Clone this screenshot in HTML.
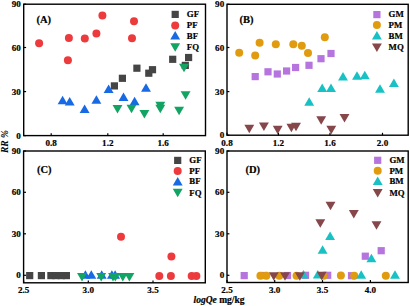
<!DOCTYPE html>
<html><head><meta charset="utf-8"><style>
html,body{margin:0;padding:0;background:#fff;}
svg{display:block;}
text{font-family:"Liberation Serif",serif;font-weight:bold;fill:#000;stroke:#000;stroke-width:0.2px;}
.t{font-size:9.1px;}
.l{font-size:8.8px;}
.p{font-size:10.5px;}
.a{font-size:9.5px;}
</style></head><body>
<svg width="410" height="306" viewBox="0 0 410 306">
<rect width="410" height="306" fill="#fff"/>
<rect x="23.7" y="4.2" width="181.8" height="131.4" fill="none" stroke="#000" stroke-width="1.4"/>
<line x1="23.7" y1="4.2" x2="26.099999999999998" y2="4.2" stroke="#000" stroke-width="1.2"/>
<line x1="23.7" y1="47.5" x2="26.099999999999998" y2="47.5" stroke="#000" stroke-width="1.2"/>
<line x1="23.7" y1="91.6" x2="26.099999999999998" y2="91.6" stroke="#000" stroke-width="1.2"/>
<line x1="23.7" y1="135.6" x2="26.099999999999998" y2="135.6" stroke="#000" stroke-width="1.2"/>
<line x1="51.2" y1="135.6" x2="51.2" y2="133.2" stroke="#000" stroke-width="1.2"/>
<line x1="107.8" y1="135.6" x2="107.8" y2="133.2" stroke="#000" stroke-width="1.2"/>
<line x1="163.2" y1="135.6" x2="163.2" y2="133.2" stroke="#000" stroke-width="1.2"/>
<text x="20.9" y="7.300000000000001" text-anchor="end" class="t">90</text>
<text x="20.9" y="50.6" text-anchor="end" class="t">60</text>
<text x="20.9" y="94.69999999999999" text-anchor="end" class="t">30</text>
<text x="20.9" y="138.7" text-anchor="end" class="t">0</text>
<text x="51.2" y="146.2" text-anchor="middle" class="t">0.8</text>
<text x="107.8" y="146.2" text-anchor="middle" class="t">1.2</text>
<text x="163.2" y="146.2" text-anchor="middle" class="t">1.6</text>
<text x="36.5" y="22.6" class="p">(A)</text>
<rect x="227" y="4.3" width="181.2" height="130.89999999999998" fill="none" stroke="#000" stroke-width="1.4"/>
<line x1="227" y1="4.3" x2="229.4" y2="4.3" stroke="#000" stroke-width="1.2"/>
<line x1="227" y1="47.5" x2="229.4" y2="47.5" stroke="#000" stroke-width="1.2"/>
<line x1="227" y1="91.6" x2="229.4" y2="91.6" stroke="#000" stroke-width="1.2"/>
<line x1="227" y1="135.2" x2="229.4" y2="135.2" stroke="#000" stroke-width="1.2"/>
<line x1="227" y1="135.2" x2="227" y2="132.79999999999998" stroke="#000" stroke-width="1.2"/>
<line x1="278.4" y1="135.2" x2="278.4" y2="132.79999999999998" stroke="#000" stroke-width="1.2"/>
<line x1="330" y1="135.2" x2="330" y2="132.79999999999998" stroke="#000" stroke-width="1.2"/>
<line x1="382.5" y1="135.2" x2="382.5" y2="132.79999999999998" stroke="#000" stroke-width="1.2"/>
<text x="224.2" y="7.4" text-anchor="end" class="t">90</text>
<text x="224.2" y="50.6" text-anchor="end" class="t">60</text>
<text x="224.2" y="94.69999999999999" text-anchor="end" class="t">30</text>
<text x="224.2" y="138.29999999999998" text-anchor="end" class="t">0</text>
<text x="227" y="146.2" text-anchor="middle" class="t">0.8</text>
<text x="278.4" y="146.2" text-anchor="middle" class="t">1.2</text>
<text x="330" y="146.2" text-anchor="middle" class="t">1.6</text>
<text x="382.5" y="146.2" text-anchor="middle" class="t">2.0</text>
<text x="239.5" y="22.6" class="p">(B)</text>
<rect x="23.6" y="151" width="181.70000000000002" height="131.8" fill="none" stroke="#000" stroke-width="1.4"/>
<line x1="23.6" y1="151" x2="26.0" y2="151" stroke="#000" stroke-width="1.2"/>
<line x1="23.6" y1="192.3" x2="26.0" y2="192.3" stroke="#000" stroke-width="1.2"/>
<line x1="23.6" y1="233.8" x2="26.0" y2="233.8" stroke="#000" stroke-width="1.2"/>
<line x1="23.6" y1="275.3" x2="26.0" y2="275.3" stroke="#000" stroke-width="1.2"/>
<line x1="23.6" y1="282.8" x2="23.6" y2="280.40000000000003" stroke="#000" stroke-width="1.2"/>
<line x1="88.3" y1="282.8" x2="88.3" y2="280.40000000000003" stroke="#000" stroke-width="1.2"/>
<line x1="153" y1="282.8" x2="153" y2="280.40000000000003" stroke="#000" stroke-width="1.2"/>
<text x="20.8" y="154.1" text-anchor="end" class="t">90</text>
<text x="20.8" y="195.4" text-anchor="end" class="t">60</text>
<text x="20.8" y="236.9" text-anchor="end" class="t">30</text>
<text x="20.8" y="278.40000000000003" text-anchor="end" class="t">0</text>
<text x="23.6" y="293.3" text-anchor="middle" class="t">2.5</text>
<text x="88.3" y="293.3" text-anchor="middle" class="t">3.0</text>
<text x="153" y="293.3" text-anchor="middle" class="t">3.5</text>
<text x="37" y="172.6" class="p">(C)</text>
<rect x="227" y="151" width="181.2" height="131.5" fill="none" stroke="#000" stroke-width="1.4"/>
<line x1="227" y1="151" x2="229.4" y2="151" stroke="#000" stroke-width="1.2"/>
<line x1="227" y1="192.3" x2="229.4" y2="192.3" stroke="#000" stroke-width="1.2"/>
<line x1="227" y1="233.8" x2="229.4" y2="233.8" stroke="#000" stroke-width="1.2"/>
<line x1="227" y1="275.3" x2="229.4" y2="275.3" stroke="#000" stroke-width="1.2"/>
<line x1="227" y1="282.5" x2="227" y2="280.1" stroke="#000" stroke-width="1.2"/>
<line x1="274.7" y1="282.5" x2="274.7" y2="280.1" stroke="#000" stroke-width="1.2"/>
<line x1="322.5" y1="282.5" x2="322.5" y2="280.1" stroke="#000" stroke-width="1.2"/>
<line x1="370.4" y1="282.5" x2="370.4" y2="280.1" stroke="#000" stroke-width="1.2"/>
<text x="224.2" y="154.1" text-anchor="end" class="t">90</text>
<text x="224.2" y="195.4" text-anchor="end" class="t">60</text>
<text x="224.2" y="236.9" text-anchor="end" class="t">30</text>
<text x="224.2" y="278.40000000000003" text-anchor="end" class="t">0</text>
<text x="227" y="293.3" text-anchor="middle" class="t">2.5</text>
<text x="274.7" y="293.3" text-anchor="middle" class="t">3.0</text>
<text x="322.5" y="293.3" text-anchor="middle" class="t">3.5</text>
<text x="370.4" y="293.3" text-anchor="middle" class="t">4.0</text>
<text x="245.5" y="172.6" class="p">(D)</text>
<rect x="110.80" y="82.30" width="7.2" height="7.2" fill="#454545"/>
<rect x="118.80" y="74.70" width="7.2" height="7.2" fill="#454545"/>
<rect x="133.30" y="64.60" width="7.2" height="7.2" fill="#454545"/>
<rect x="145.20" y="69.60" width="7.2" height="7.2" fill="#454545"/>
<rect x="148.90" y="66.10" width="7.2" height="7.2" fill="#454545"/>
<rect x="169.10" y="55.70" width="7.2" height="7.2" fill="#454545"/>
<rect x="181.70" y="61.80" width="7.2" height="7.2" fill="#454545"/>
<rect x="185.00" y="53.90" width="7.2" height="7.2" fill="#454545"/>
<circle cx="39.10" cy="43.20" r="4.0" fill="#ec3a3d"/>
<circle cx="68.90" cy="37.90" r="4.0" fill="#ec3a3d"/>
<circle cx="67.90" cy="60.30" r="4.0" fill="#ec3a3d"/>
<circle cx="84.80" cy="38.40" r="4.0" fill="#ec3a3d"/>
<circle cx="96.40" cy="33.50" r="4.0" fill="#ec3a3d"/>
<circle cx="102.40" cy="15.50" r="4.0" fill="#ec3a3d"/>
<circle cx="134.00" cy="21.30" r="4.0" fill="#ec3a3d"/>
<circle cx="132.00" cy="38.30" r="4.0" fill="#ec3a3d"/>
<polygon points="62.60,95.85 67.55,104.35 57.65,104.35" fill="#176ae4"/>
<polygon points="69.70,96.95 74.65,105.45 64.75,105.45" fill="#176ae4"/>
<polygon points="84.60,104.45 89.55,112.95 79.65,112.95" fill="#176ae4"/>
<polygon points="96.40,95.35 101.35,103.85 91.45,103.85" fill="#176ae4"/>
<polygon points="108.60,84.55 113.55,93.05 103.65,93.05" fill="#176ae4"/>
<polygon points="123.50,92.45 128.45,100.95 118.55,100.95" fill="#176ae4"/>
<polygon points="134.60,96.75 139.55,105.25 129.65,105.25" fill="#176ae4"/>
<polygon points="146.00,83.15 150.95,91.65 141.05,91.65" fill="#176ae4"/>
<polygon points="112.55,104.95 122.45,104.95 117.50,113.45" fill="#12a462"/>
<polygon points="126.55,104.75 136.45,104.75 131.50,113.25" fill="#12a462"/>
<polygon points="139.45,109.95 149.35,109.95 144.40,118.45" fill="#12a462"/>
<polygon points="155.35,101.75 165.25,101.75 160.30,110.25" fill="#12a462"/>
<polygon points="155.35,104.75 165.25,104.75 160.30,113.25" fill="#12a462"/>
<polygon points="174.15,106.75 184.05,106.75 179.10,115.25" fill="#12a462"/>
<polygon points="180.65,91.35 190.55,91.35 185.60,99.85" fill="#12a462"/>
<polygon points="179.05,63.65 188.95,63.65 184.00,72.15" fill="#12a462"/>
<rect x="171.60" y="10.80" width="7.2" height="7.2" fill="#454545"/>
<text x="186.8" y="17.3" class="l">GF</text>
<circle cx="175.20" cy="25.40" r="4.0" fill="#ec3a3d"/>
<text x="186.8" y="27.9" class="l">PF</text>
<polygon points="175.20,30.95 180.15,39.45 170.25,39.45" fill="#176ae4"/>
<text x="186.8" y="38.7" class="l">BF</text>
<polygon points="170.25,43.25 180.15,43.25 175.20,51.75" fill="#12a462"/>
<text x="186.8" y="50.0" class="l">FQ</text>
<rect x="251.60" y="73.00" width="7.2" height="7.2" fill="#b574de"/>
<rect x="264.40" y="68.20" width="7.2" height="7.2" fill="#b574de"/>
<rect x="273.70" y="70.40" width="7.2" height="7.2" fill="#b574de"/>
<rect x="283.00" y="67.40" width="7.2" height="7.2" fill="#b574de"/>
<rect x="292.00" y="63.90" width="7.2" height="7.2" fill="#b574de"/>
<rect x="305.40" y="61.70" width="7.2" height="7.2" fill="#b574de"/>
<rect x="317.40" y="55.10" width="7.2" height="7.2" fill="#b574de"/>
<rect x="327.40" y="49.90" width="7.2" height="7.2" fill="#b574de"/>
<circle cx="239.20" cy="52.70" r="4.0" fill="#e19b0f"/>
<circle cx="255.20" cy="55.60" r="4.0" fill="#e19b0f"/>
<circle cx="259.60" cy="42.70" r="4.0" fill="#e19b0f"/>
<circle cx="275.80" cy="44.20" r="4.0" fill="#e19b0f"/>
<circle cx="293.30" cy="44.30" r="4.0" fill="#e19b0f"/>
<circle cx="301.80" cy="45.70" r="4.0" fill="#e19b0f"/>
<circle cx="308.00" cy="53.00" r="4.0" fill="#e19b0f"/>
<circle cx="324.80" cy="37.30" r="4.0" fill="#e19b0f"/>
<polygon points="309.20,97.15 314.15,105.65 304.25,105.65" fill="#18c2c4"/>
<polygon points="322.20,83.45 327.15,91.95 317.25,91.95" fill="#18c2c4"/>
<polygon points="331.00,83.45 335.95,91.95 326.05,91.95" fill="#18c2c4"/>
<polygon points="343.00,72.05 347.95,80.55 338.05,80.55" fill="#18c2c4"/>
<polygon points="357.00,71.25 361.95,79.75 352.05,79.75" fill="#18c2c4"/>
<polygon points="364.80,70.75 369.75,79.25 359.85,79.25" fill="#18c2c4"/>
<polygon points="380.00,84.25 384.95,92.75 375.05,92.75" fill="#18c2c4"/>
<polygon points="393.90,78.55 398.85,87.05 388.95,87.05" fill="#18c2c4"/>
<polygon points="244.35,124.75 254.25,124.75 249.30,133.25" fill="#86474b"/>
<polygon points="258.95,122.55 268.85,122.55 263.90,131.05" fill="#86474b"/>
<polygon points="272.75,125.85 282.65,125.85 277.70,134.35" fill="#86474b"/>
<polygon points="286.45,123.65 296.35,123.65 291.40,132.15" fill="#86474b"/>
<polygon points="291.05,122.75 300.95,122.75 296.00,131.25" fill="#86474b"/>
<polygon points="316.25,116.35 326.15,116.35 321.20,124.85" fill="#86474b"/>
<polygon points="326.35,125.65 336.25,125.65 331.30,134.15" fill="#86474b"/>
<polygon points="339.55,114.05 349.45,114.05 344.50,122.55" fill="#86474b"/>
<rect x="373.30" y="11.00" width="7.2" height="7.2" fill="#b574de"/>
<text x="388.6" y="17.2" class="l">GM</text>
<circle cx="376.90" cy="25.10" r="4.0" fill="#e19b0f"/>
<text x="388.6" y="28.1" class="l">PM</text>
<polygon points="376.90,31.05 381.85,39.55 371.95,39.55" fill="#18c2c4"/>
<text x="388.6" y="38.5" class="l">BM</text>
<polygon points="371.95,43.55 381.85,43.55 376.90,52.05" fill="#86474b"/>
<text x="388.6" y="50.2" class="l">MQ</text>
<rect x="26.10" y="272.00" width="7.2" height="7.2" fill="#454545"/>
<rect x="37.80" y="272.00" width="7.2" height="7.2" fill="#454545"/>
<rect x="47.30" y="272.00" width="7.2" height="7.2" fill="#454545"/>
<rect x="52.40" y="272.00" width="7.2" height="7.2" fill="#454545"/>
<rect x="57.70" y="272.00" width="7.2" height="7.2" fill="#454545"/>
<rect x="62.80" y="272.00" width="7.2" height="7.2" fill="#454545"/>
<circle cx="121.00" cy="236.70" r="4.0" fill="#ec3a3d"/>
<circle cx="159.30" cy="276.00" r="4.0" fill="#ec3a3d"/>
<circle cx="170.90" cy="276.00" r="4.0" fill="#ec3a3d"/>
<circle cx="171.40" cy="256.60" r="4.0" fill="#ec3a3d"/>
<circle cx="191.70" cy="276.00" r="4.0" fill="#ec3a3d"/>
<circle cx="196.40" cy="276.00" r="4.0" fill="#ec3a3d"/>
<polygon points="85.40,270.15 90.35,278.65 80.45,278.65" fill="#176ae4"/>
<polygon points="91.30,270.15 96.25,278.65 86.35,278.65" fill="#176ae4"/>
<polygon points="101.70,270.15 106.65,278.65 96.75,278.65" fill="#176ae4"/>
<polygon points="111.90,270.15 116.85,278.65 106.95,278.65" fill="#176ae4"/>
<polygon points="115.10,270.15 120.05,278.65 110.15,278.65" fill="#176ae4"/>
<polygon points="77.05,272.95 86.95,272.95 82.00,281.45" fill="#12a462"/>
<polygon points="96.25,272.95 106.15,272.95 101.20,281.45" fill="#12a462"/>
<polygon points="108.05,272.95 117.95,272.95 113.00,281.45" fill="#12a462"/>
<polygon points="110.35,272.95 120.25,272.95 115.30,281.45" fill="#12a462"/>
<polygon points="117.85,272.95 127.75,272.95 122.80,281.45" fill="#12a462"/>
<polygon points="124.45,272.95 134.35,272.95 129.40,281.45" fill="#12a462"/>
<rect x="174.10" y="156.80" width="7.2" height="7.2" fill="#454545"/>
<text x="189.3" y="163.1" class="l">GF</text>
<circle cx="177.70" cy="171.00" r="4.0" fill="#ec3a3d"/>
<text x="189.3" y="173.9" class="l">PF</text>
<polygon points="177.70,176.95 182.65,185.45 172.75,185.45" fill="#176ae4"/>
<text x="189.3" y="184.3" class="l">BF</text>
<polygon points="172.75,188.75 182.65,188.75 177.70,197.25" fill="#12a462"/>
<text x="189.3" y="196.1" class="l">FQ</text>
<rect x="240.60" y="272.00" width="7.2" height="7.2" fill="#b574de"/>
<rect x="260.40" y="271.90" width="7.2" height="7.2" fill="#b574de"/>
<rect x="283.90" y="271.90" width="7.2" height="7.2" fill="#b574de"/>
<rect x="301.90" y="271.70" width="7.2" height="7.2" fill="#b574de"/>
<rect x="324.10" y="271.70" width="7.2" height="7.2" fill="#b574de"/>
<rect x="347.90" y="272.10" width="7.2" height="7.2" fill="#b574de"/>
<rect x="361.70" y="252.60" width="7.2" height="7.2" fill="#b574de"/>
<rect x="377.60" y="247.10" width="7.2" height="7.2" fill="#b574de"/>
<circle cx="260.40" cy="275.80" r="4.0" fill="#e19b0f"/>
<circle cx="266.30" cy="275.80" r="4.0" fill="#e19b0f"/>
<circle cx="279.30" cy="275.80" r="4.0" fill="#e19b0f"/>
<circle cx="296.50" cy="275.80" r="4.0" fill="#e19b0f"/>
<circle cx="323.50" cy="275.80" r="4.0" fill="#e19b0f"/>
<circle cx="340.90" cy="275.50" r="4.0" fill="#e19b0f"/>
<circle cx="354.20" cy="275.80" r="4.0" fill="#e19b0f"/>
<circle cx="385.80" cy="275.80" r="4.0" fill="#e19b0f"/>
<polygon points="303.50,269.95 308.45,278.45 298.55,278.45" fill="#18c2c4"/>
<polygon points="317.80,269.95 322.75,278.45 312.85,278.45" fill="#18c2c4"/>
<polygon points="361.20,270.25 366.15,278.75 356.25,278.75" fill="#18c2c4"/>
<polygon points="395.00,270.25 399.95,278.75 390.05,278.75" fill="#18c2c4"/>
<polygon points="322.60,245.25 327.55,253.75 317.65,253.75" fill="#18c2c4"/>
<polygon points="330.10,231.55 335.05,240.05 325.15,240.05" fill="#18c2c4"/>
<polygon points="371.40,253.65 376.35,262.15 366.45,262.15" fill="#18c2c4"/>
<polygon points="268.85,272.25 278.75,272.25 273.80,280.75" fill="#86474b"/>
<polygon points="280.05,272.25 289.95,272.25 285.00,280.75" fill="#86474b"/>
<polygon points="294.85,272.25 304.75,272.25 299.80,280.75" fill="#86474b"/>
<polygon points="316.75,271.75 326.65,271.75 321.70,280.25" fill="#86474b"/>
<polygon points="315.35,219.25 325.25,219.25 320.30,227.75" fill="#86474b"/>
<polygon points="325.55,201.75 335.45,201.75 330.50,210.25" fill="#86474b"/>
<polygon points="348.85,209.95 358.75,209.95 353.80,218.45" fill="#86474b"/>
<polygon points="371.55,221.15 381.45,221.15 376.50,229.65" fill="#86474b"/>
<rect x="374.10" y="156.70" width="7.2" height="7.2" fill="#b574de"/>
<text x="389.5" y="163.0" class="l">GM</text>
<circle cx="377.70" cy="170.70" r="4.0" fill="#e19b0f"/>
<text x="389.5" y="173.8" class="l">PM</text>
<polygon points="377.70,176.45 382.65,184.95 372.75,184.95" fill="#18c2c4"/>
<text x="389.5" y="184.0" class="l">BM</text>
<polygon points="372.75,188.95 382.65,188.95 377.70,197.45" fill="#86474b"/>
<text x="389.5" y="196.2" class="l">MQ</text>
<text transform="translate(7.6,141.5) rotate(-90)" text-anchor="middle" class="a" style="stroke-width:0"><tspan font-style="italic">RR</tspan> <tspan font-style="italic">%</tspan></text>
<text x="219" y="302.6" text-anchor="middle" class="a"><tspan font-style="italic">logQe</tspan> mg/kg</text>
</svg>
</body></html>
